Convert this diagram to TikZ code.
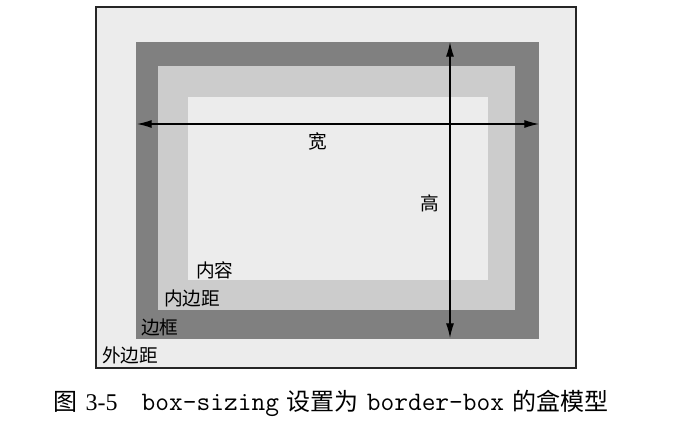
\documentclass[tikz,border=0pt]{standalone}
\usepackage{fontspec}
\setmainfont{Liberation Serif}
\newfontfamily\cjk{Noto Sans CJK SC}
\usetikzlibrary{arrows.meta}
\definecolor{boxmargin}{gray}{0.925}
\definecolor{boxborder}{gray}{0.5}
\definecolor{boxpadding}{gray}{0.8}
\definecolor{boxcontent}{gray}{0.925}
\newcommand{\captt}[1]{{\ttfamily\fontsize{20}{22}\selectfont #1}}
\tikzset{dim/.style={line width=0.9pt, {Latex[length=11pt,width=6pt]}-{Latex[length=11pt,width=6pt]}}}
\tikzset{lbl/.style={font=\cjk\fontsize{14}{16}\selectfont, inner sep=0pt}}

\begin{document}
\begin{tikzpicture}[x=0.75pt, y=-0.75pt]
        \useasboundingbox (0,0) rectangle (689,424);

        \fill[boxmargin] (96, 7) rectangle (576, 368);
        \fill[boxborder] (136, 42) rectangle (539, 339);
        \fill[boxpadding] (158, 66) rectangle (515, 310);
        \fill[boxcontent] (188, 97) rectangle (488, 280);
        \draw[line width=1.2pt, color=black!85] (96, 7) rectangle (576, 368);

        \coordinate (Wl) at (137, 124);
        \coordinate (Wr) at (539, 124);
        \coordinate (Ht) at (450, 42);
        \coordinate (Hb) at (450, 338);

        \draw [dim] (Wl) -- (Wr);
        \draw [dim] (Ht) -- (Hb);

        \node[lbl] (width) at (318, 141) {宽};
        \node[lbl] (height) at (430, 203) {高};
        \node[lbl, anchor=west] (content) at (196, 270) {内容};
        \node[lbl, anchor=west] (padding) at (164, 298) {内边距};
        \node[lbl, anchor=west] (border) at (141, 327) {边框};
        \node[lbl, anchor=west] (margin) at (102, 355) {外边距};

        \node[anchor=west, inner sep=0pt, font=\fontsize{18}{22}\selectfont] (caption) at (53, 403)
        {{\cjk 图}\hspace{0.35em}3-5\hspace{1.0em}\captt{box-sizing}\hspace{0.33em}{\cjk 设置为}\hspace{0.33em}\captt{border-box}\hspace{0.33em}{\cjk 的盒模型}};

\end{tikzpicture}
\end{document}
